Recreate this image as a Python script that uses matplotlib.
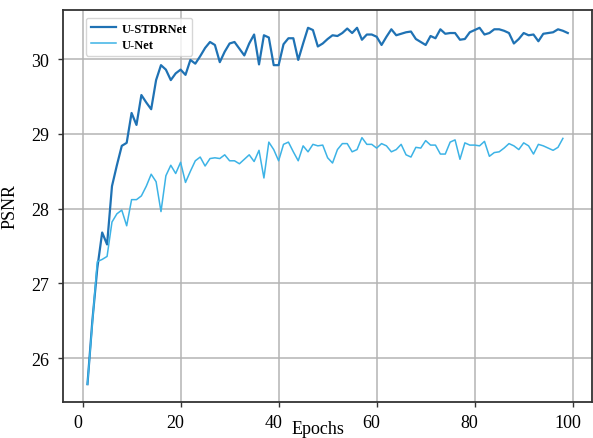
import numpy as np
import matplotlib
matplotlib.use("Agg")
import matplotlib.pyplot as plt
import matplotlib.transforms as mtransforms

plt.rcParams.update({
    "font.family": "Liberation Serif",
    "font.size": 12.5,
})

# PSNR per epoch
stdrnet_psnr = [
    25.65, 26.50, 27.20, 27.68, 27.52, 28.30, 28.58, 28.84, 28.88, 29.28,
    29.12, 29.52, 29.42, 29.33, 29.72, 29.92, 29.86, 29.72, 29.81, 29.86,
    29.79, 29.99, 29.94, 30.04, 30.15, 30.23, 30.19, 29.96, 30.10, 30.21,
    30.23, 30.14, 30.05, 30.21, 30.33, 29.93, 30.32, 30.29, 29.92, 29.92,
    30.20, 30.28, 30.28, 29.99, 30.21, 30.42, 30.39, 30.17, 30.21, 30.27,
    30.32, 30.31, 30.35, 30.41, 30.35, 30.42, 30.26, 30.33, 30.33, 30.30,
    30.19, 30.30, 30.40, 30.32, 30.34, 30.36, 30.37, 30.27, 30.23, 30.19,
    30.31, 30.28, 30.40, 30.34, 30.35, 30.35, 30.26, 30.27, 30.36, 30.39,
    30.42, 30.33, 30.35, 30.40, 30.40, 30.38, 30.35, 30.21, 30.27, 30.35,
    30.32, 30.33, 30.24, 30.34, 30.35, 30.36, 30.40, 30.38, 30.35,
]
unet_psnr = [
    25.65, 26.47, 27.29, 27.32, 27.36, 27.82, 27.93, 27.98, 27.77, 28.12,
    28.12, 28.17, 28.30, 28.46, 28.36, 27.96, 28.44, 28.58, 28.47, 28.62,
    28.35, 28.50, 28.64, 28.69, 28.57, 28.67, 28.68, 28.67, 28.72, 28.64,
    28.64, 28.60, 28.66, 28.72, 28.63, 28.78, 28.41, 28.89, 28.79, 28.64,
    28.86, 28.89, 28.76, 28.64, 28.84, 28.76, 28.86, 28.84, 28.85, 28.68,
    28.61, 28.79, 28.87, 28.87, 28.76, 28.79, 28.95, 28.86, 28.86, 28.81,
    28.87, 28.84, 28.76, 28.79, 28.86, 28.72, 28.69, 28.82, 28.81, 28.91,
    28.85, 28.85, 28.73, 28.73, 28.89, 28.92, 28.66, 28.88, 28.85, 28.85,
    28.84, 28.90, 28.70, 28.75, 28.76, 28.81, 28.87, 28.84, 28.79, 28.88,
    28.84, 28.73, 28.86, 28.84, 28.81, 28.78, 28.82, 28.94,
]
stdrnet_epochs = np.arange(1, len(stdrnet_psnr) + 1)
unet_epochs = np.arange(1, len(unet_psnr) + 1)

fig = plt.figure(figsize=(5.93, 4.39), dpi=100)
ax = fig.add_axes([0.107, 0.082, 0.891, 0.893])

ax.plot(stdrnet_epochs, stdrnet_psnr, color="#1f72b4", linewidth=1.6, label="U-STDRNet")
ax.plot(unet_epochs, unet_psnr, color="#3cb3e6", linewidth=1.1, label="U-Net")

ax.set_xticks([0, 20, 40, 60, 80, 100])
ax.set_yticks([26, 27, 28, 29, 30])
ax.grid(True, color="#b4b4b4", linewidth=1.1)
ax.set_axisbelow(True)
for spine in ax.spines.values():
    spine.set_linewidth(1.3)
    spine.set_color("#333333")

ax.tick_params(axis="both", labelsize=13, length=3.5, width=1.0, color="#333333")
ax.tick_params(axis="x", pad=5)
ax.tick_params(axis="y", pad=7)

# the reference has its x labels sitting a few pixels left of the ticks
shift = mtransforms.ScaledTranslation(-0.05, 0, fig.dpi_scale_trans)
for lbl in ax.get_xticklabels():
    lbl.set_transform(lbl.get_transform() + shift)

ax.set_xlabel("Epochs", fontsize=13, labelpad=-8)
ax.xaxis.label.set_x(0.482)
ax.set_ylabel("PSNR", fontsize=13, labelpad=9)

leg = ax.legend(loc="upper left", bbox_to_anchor=(0.042, 0.98), borderaxespad=0,
                prop={"family": "Liberation Serif", "weight": "bold", "size": 9},
                handlelength=2.0, handletextpad=0.5, borderpad=0.4,
                labelspacing=0.3, fancybox=True)
leg.get_frame().set_edgecolor("#cccccc")

fig.savefig("out.png", dpi=100)
